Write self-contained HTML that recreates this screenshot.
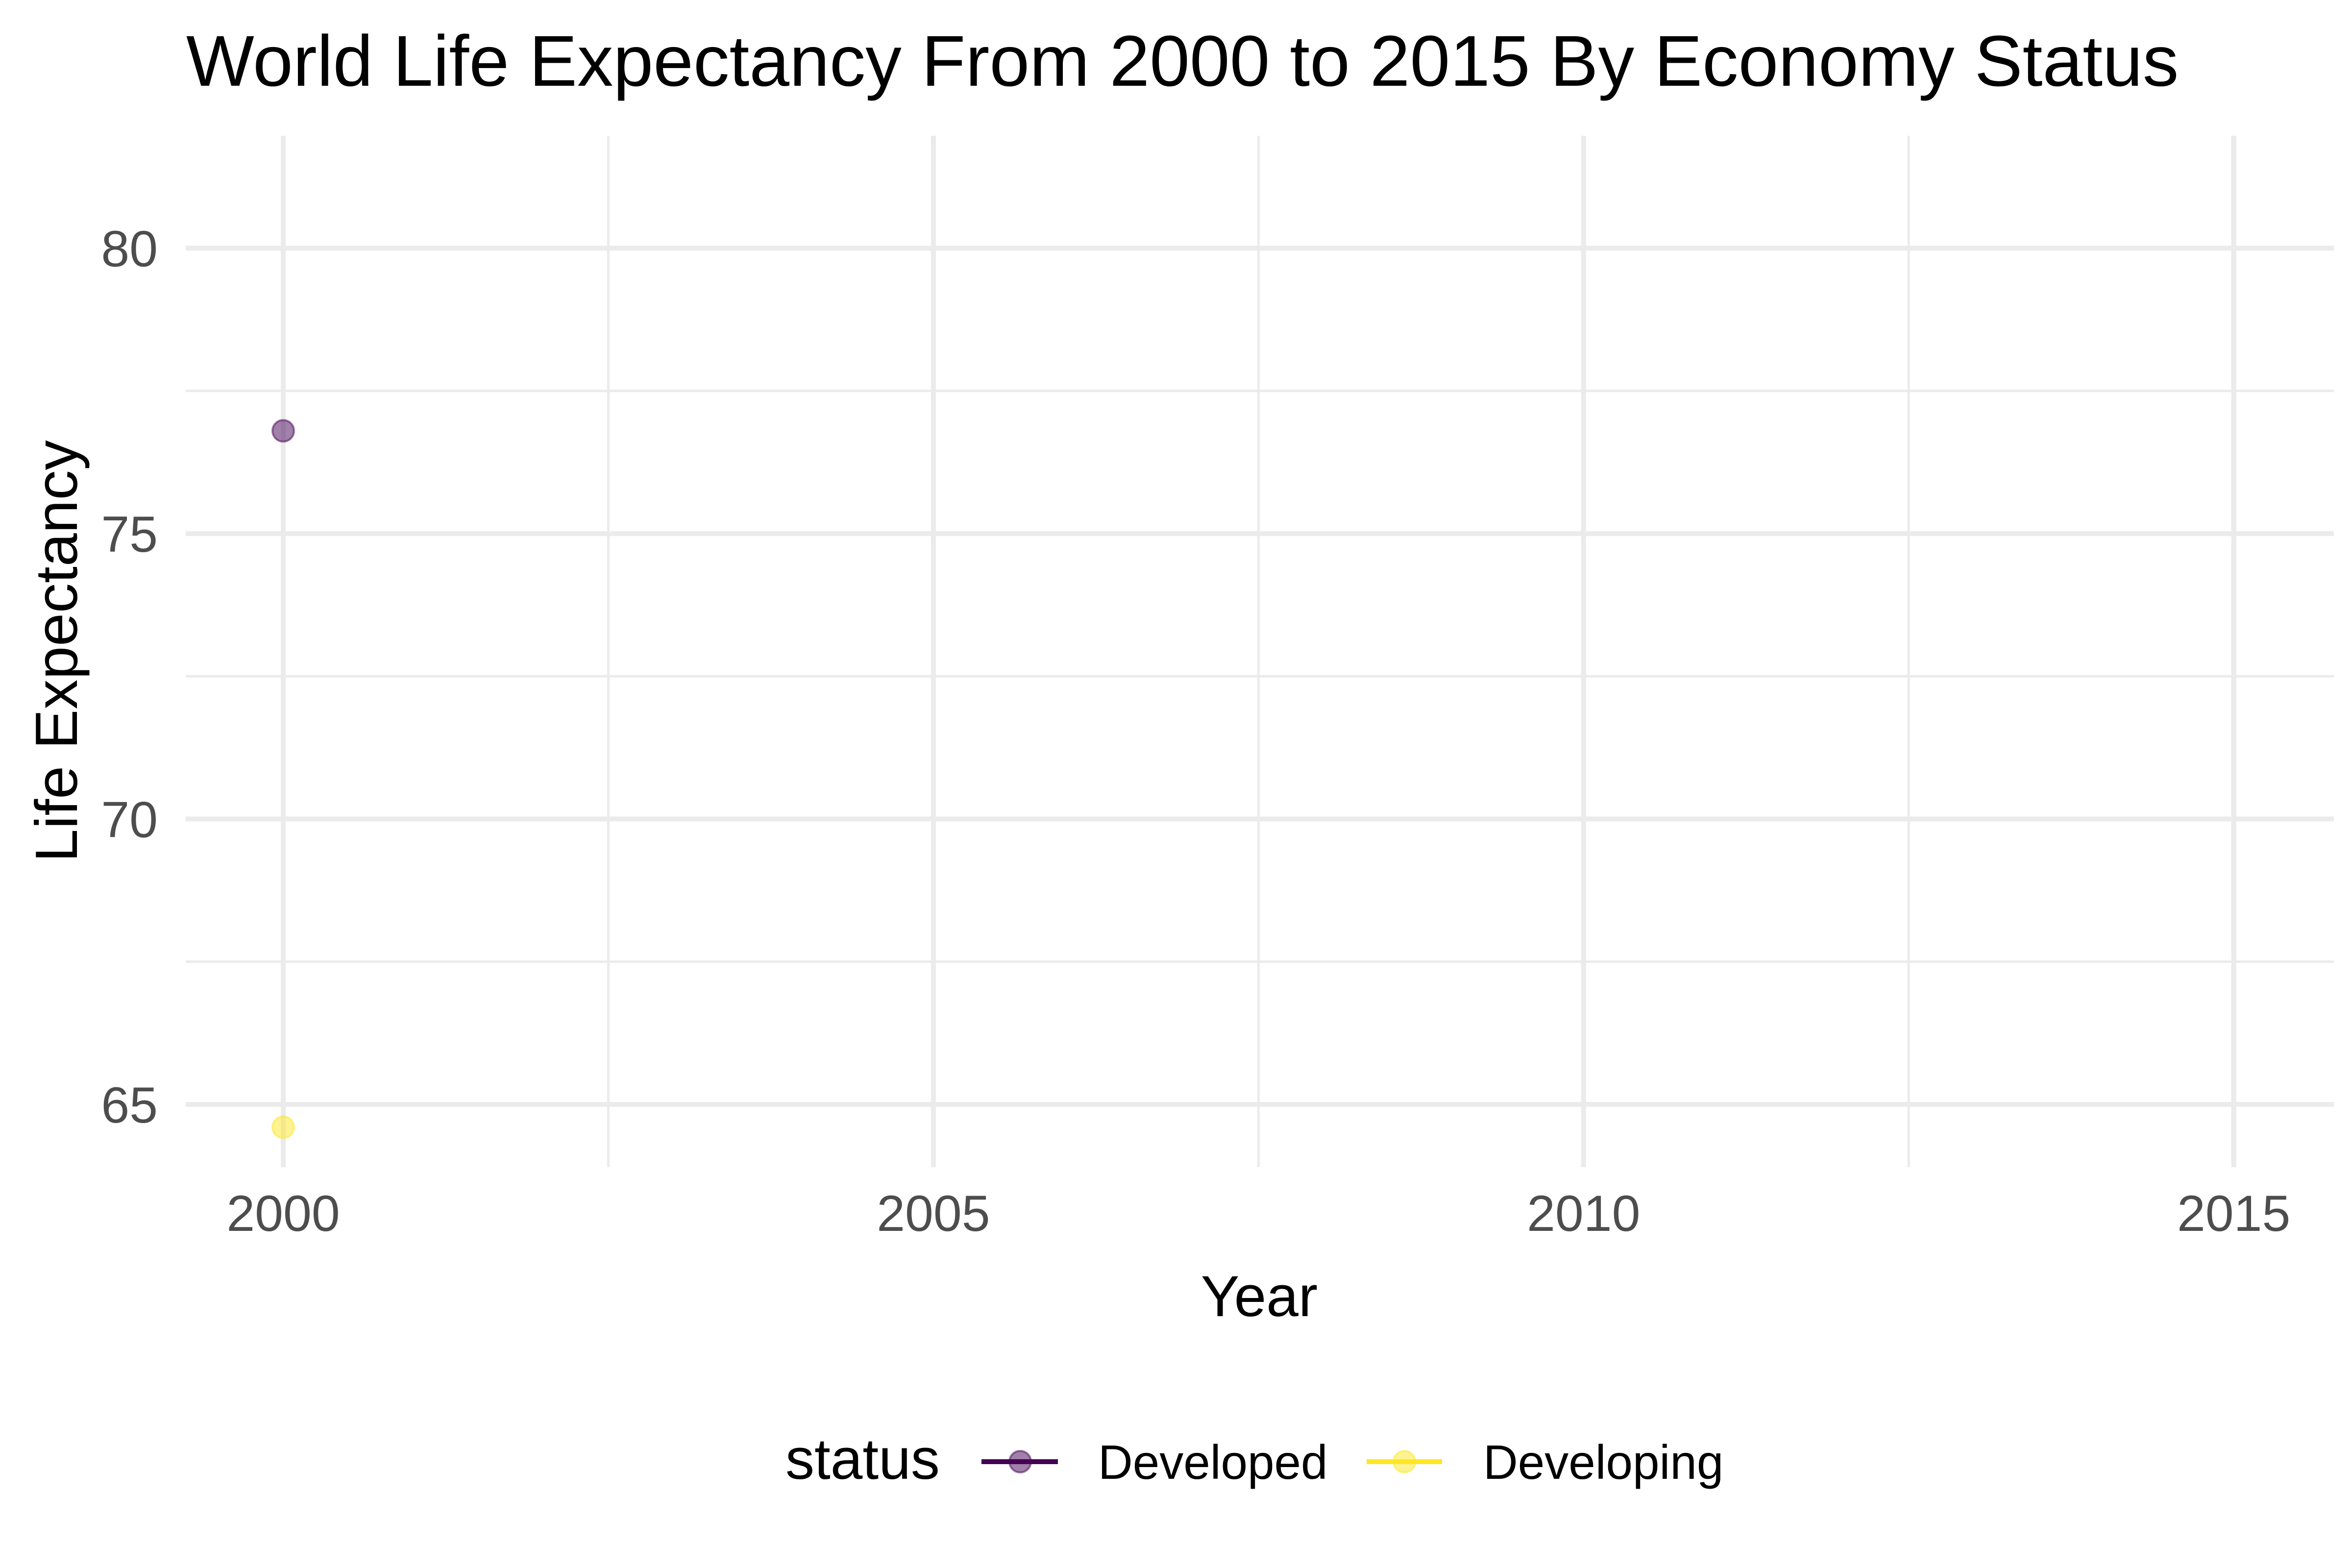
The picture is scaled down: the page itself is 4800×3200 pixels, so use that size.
<!DOCTYPE html>
<html><head><meta charset="utf-8"><style>
html,body{margin:0;padding:0;background:#fff;}
svg{display:block;font-family:"Liberation Sans",Arial,sans-serif;}
</style></head><body>
<svg id="chart" width="4800" height="3200" viewBox="0 0 4800 3200" xmlns="http://www.w3.org/2000/svg">
<rect width="4800" height="3200" fill="#fff"/>
<text x="380" y="175" font-size="147" fill="#000">World Life Expectancy From 2000 to 2015 By Economy Status</text>
<g id="grid"></g>
<g id="yticks"></g>
<g id="xticks"></g>
<g id="marks"></g>
<text x="2570" y="2686" font-size="118" text-anchor="middle" fill="#000">Year</text>
<text transform="translate(157,1329) rotate(-90)" font-size="122" text-anchor="middle" fill="#000">Life Expectancy</text>
<g>
  <text x="1603" y="3018" font-size="118" fill="#000">status</text>
  <g>
    <line x1="2003" y1="2983" x2="2159" y2="2983" stroke="#440154" stroke-width="10"/>
    <circle cx="2082" cy="2983" r="22" fill="#440154" fill-opacity="0.5" stroke="#440154" stroke-opacity="0.5" stroke-width="4"/>
    <text x="2241" y="3018" font-size="98" fill="#000">Developed</text>
  </g>
  <g>
    <line x1="2789" y1="2983" x2="2943" y2="2983" stroke="#FDE725" stroke-width="10"/>
    <circle cx="2866" cy="2983" r="22" fill="#FDE725" fill-opacity="0.5" stroke="#FDE725" stroke-opacity="0.5" stroke-width="4"/>
    <text x="3027" y="3018" font-size="98" fill="#000">Developing</text>
  </g>
</g>
</svg>
<script>
const seriesNames = ["Developed", "Developing"];
const seriesColors = ["#440154", "#FDE725"];
const years = [2000];
const developedValues = [76.8];
const developingValues = [64.6];
const yTickValues = [65, 70, 75, 80];
const yMinorValues = [67.5, 72.5, 77.5];
const xTickValues = [2000, 2005, 2010, 2015];
const xMinorValues = [2002.5, 2007.5, 2012.5];

const PL = 379, PR = 4763, PT = 277, PB = 2382;
const X0 = 1999.25, X1 = 2015.77, Y0 = 63.9, Y1 = 81.97;
function xs(v){ return PL + (v - X0) / (X1 - X0) * (PR - PL); }
function ys(v){ return PB - (v - Y0) / (Y1 - Y0) * (PB - PT); }
const NS = "http://www.w3.org/2000/svg";
function mk(tag, attrs, parent){
  const e = document.createElementNS(NS, tag);
  for (const k in attrs) e.setAttribute(k, attrs[k]);
  parent.appendChild(e); return e;
}
const grid = document.getElementById('grid');
yMinorValues.forEach(v => {
  const l = mk('line', {x1: PL, x2: PR, y1: ys(v), y2: ys(v), stroke: '#ebebeb', 'stroke-width': 5}, grid);
  
  
});
xMinorValues.forEach(v => {
  const l = mk('line', {x1: xs(v), x2: xs(v), y1: PT, y2: PB, stroke: '#ebebeb', 'stroke-width': 5}, grid);
  
  
});
const yt = document.getElementById('yticks');
yTickValues.forEach(v => {
  const l = mk('line', {x1: PL, x2: PR, y1: ys(v), y2: ys(v), stroke: '#ebebeb', 'stroke-width': 10}, grid);
  
  
  const t = mk('text', {x: 322, y: ys(v) + 37, 'font-size': 104, fill: '#4d4d4d', 'text-anchor': 'end'}, yt);
  t.textContent = v;
  
  
});
const xt = document.getElementById('xticks');
xTickValues.forEach(v => {
  const l = mk('line', {x1: xs(v), x2: xs(v), y1: PT, y2: PB, stroke: '#ebebeb', 'stroke-width': 10}, grid);
  
  
  const t = mk('text', {x: xs(v), y: 2512, 'font-size': 104, fill: '#4d4d4d', 'text-anchor': 'middle'}, xt);
  t.textContent = v;
  
  
});
const marks = document.getElementById('marks');
[developedValues, developingValues].forEach((vals, si) => {
  const c = seriesColors[si];
  if (vals.length > 1) {
    const p = mk('polyline', {points: vals.map((v,i)=>xs(years[i])+','+ys(v)).join(' '), fill: 'none', stroke: c, 'stroke-width': 10}, marks);
    
    
  }
  vals.forEach((v, i) => {
    const pt = mk('circle', {cx: xs(years[i]), cy: ys(v), r: 22, fill: c, 'fill-opacity': 0.5, stroke: c, 'stroke-opacity': 0.5, 'stroke-width': 4}, marks);
    
    
  });
});
</script>
</body></html>
